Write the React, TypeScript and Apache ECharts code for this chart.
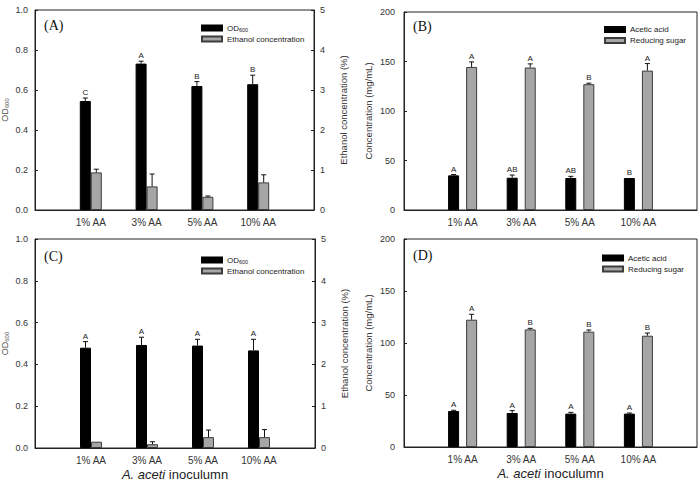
import React, { useEffect, useRef } from "react";
import * as echarts from "echarts";

const categories = ["1% AA", "3% AA", "5% AA", "10% AA"];

// Panel A
const odA = [0.545, 0.732, 0.62, 0.629];
const odAErr = [0.015, 0.012, 0.022, 0.045];
const odALetters = ["C", "A", "B", "B"];
const ethA = [0.94, 0.59, 0.33, 0.69];
const ethAErr = [0.08, 0.31, 0.02, 0.19];

// Panel B
const aceticB = [35.0, 32.6, 32.3, 32.3];
const aceticBErr = [0.8, 2.7, 1.7, 0.5];
const aceticBLetters = ["A", "AB", "AB", "B"];
const sugarB = [144.5, 143.9, 127.1, 140.8];
const sugarBErr = [5.1, 3.7, 1.0, 7.1];
const sugarBLetters = ["A", "A", "B", "A"];

// Panel C
const odC = [0.48, 0.493, 0.49, 0.467];
const odCErr = [0.029, 0.037, 0.03, 0.053];
const odCLetters = ["A", "A", "A", "A"];
const ethC = [0.15, 0.09, 0.26, 0.26];
const ethCErr = [0.0, 0.06, 0.17, 0.18];

// Panel D
const aceticD = [34.6, 32.7, 32.1, 32.1];
const aceticDErr = [0.7, 2.3, 1.2, 0.6];
const aceticDLetters = ["A", "A", "A", "A"];
const sugarD = [122.4, 113.1, 110.9, 107.0];
const sugarDErr = [5.2, 1.0, 1.6, 2.6];
const sugarDLetters = ["A", "B", "B", "B"];

const odTicks = [0, 0.2, 0.4, 0.6, 0.8, 1.0];

const FONT = "'Liberation Sans', Arial, sans-serif";
const SERIF = "'Liberation Serif', 'Times New Roman', serif";
const AXIS_COLOR = "#222";
const TEXT_COLOR = "#333";
const BLACK = "#000";
const GREY = "#a6a6a6";
const GREY_BORDER = "#3c3c3c";

const padCats = ["", ...categories, ""];
const pad = (arr: number[]) => [null, ...arr, null];

function errSeries(
  vals: number[],
  errs: number[],
  letters: string[] | null,
  offset: number,
  xi: number,
  yi: number
) {
  return {
    type: "custom",
    xAxisIndex: xi,
    yAxisIndex: yi,
    silent: true,
    clip: false,
    z: 5,
    data: vals.map((v, i) => [i + 1, v, v + errs[i]]),
    renderItem: (params: any, api: any) => {
      const x = api.value(0);
      const base = api.coord([x, api.value(1)]);
      const top = api.coord([x, api.value(2)]);
      const px = base[0] + offset;
      const children: any[] = [];
      if (top[1] < base[1] - 0.5) {
        children.push({
          type: "line",
          shape: { x1: px, y1: base[1], x2: px, y2: top[1] },
          style: { stroke: "#111", lineWidth: 1 },
        });
        children.push({
          type: "line",
          shape: { x1: px - 2.5, y1: top[1], x2: px + 2.5, y2: top[1] },
          style: { stroke: "#111", lineWidth: 1 },
        });
      }
      const letter = letters ? letters[params.dataIndex] : null;
      if (letter) {
        children.push({
          type: "text",
          x: px,
          y: top[1] - 1.5,
          style: {
            text: letter,
            fill: "#222",
            fontSize: 8,
            fontFamily: FONT,
            align: "center",
            verticalAlign: "bottom",
          },
        });
      }
      return { type: "group", children };
    },
  };
}

const axisCommon = {
  axisLine: { show: true, lineStyle: { color: AXIS_COLOR, width: 1 } },
  axisTick: { show: true, inside: true, length: 3, lineStyle: { color: AXIS_COLOR } },
  splitLine: { show: false },
};

function xAxis(gridIndex: number, withName: boolean) {
  return {
    type: "category",
    gridIndex,
    boundaryGap: false,
    data: padCats,
    axisLine: { show: true, lineStyle: { color: AXIS_COLOR, width: 1 } },
    axisTick: { show: false },
    axisLabel: { interval: 0, fontSize: 10, color: TEXT_COLOR, fontFamily: FONT, margin: 7 },
    splitLine: { show: false },
    name: withName ? "{i|A. aceti} inoculumn" : "",
    nameLocation: "middle",
    nameGap: 19,
    nameTextStyle: {
      fontSize: 13,
      lineHeight: 14,
      color: "#222",
      fontFamily: FONT,
      rich: { i: { fontStyle: "italic", fontSize: 13, lineHeight: 14, fontFamily: FONT, color: "#222" } },
    },
  };
}

function odAxis(gridIndex: number) {
  return {
    type: "value",
    gridIndex,
    position: "left",
    min: odTicks[0],
    max: odTicks[odTicks.length - 1],
    interval: 0.2,
    ...axisCommon,
    axisLabel: {
      fontSize: 9,
      color: TEXT_COLOR,
      fontFamily: FONT,
      margin: 7,
      formatter: (v: number) => v.toFixed(1),
    },
    name: "{a|OD}{s|600}",
    nameLocation: "middle",
    nameGap: 25,
    nameRotate: 90,
    nameTextStyle: {
      color: "#555",
      fontFamily: FONT,
      rich: {
        a: { fontSize: 9, color: "#555", fontFamily: FONT, verticalAlign: "middle", lineHeight: 11 },
        s: { fontSize: 6, color: "#555", fontFamily: FONT, verticalAlign: "bottom", lineHeight: 11 },
      },
    },
  };
}

function ethAxis(gridIndex: number) {
  return {
    type: "value",
    gridIndex,
    position: "right",
    min: 0,
    max: 5,
    interval: 1,
    ...axisCommon,
    axisLabel: { fontSize: 9, color: TEXT_COLOR, fontFamily: FONT, margin: 6 },
    name: "Ethanol concentration (%)",
    nameLocation: "middle",
    nameGap: 24,
    nameRotate: 90,
    nameTextStyle: { fontSize: 9.5, color: "#333", fontFamily: FONT },
  };
}

function concAxis(gridIndex: number) {
  return {
    type: "value",
    gridIndex,
    position: "left",
    min: 0,
    max: 200,
    interval: 50,
    ...axisCommon,
    axisLabel: { fontSize: 9, color: TEXT_COLOR, fontFamily: FONT, margin: 9 },
    name: "Concentration (mg/mL)",
    nameLocation: "middle",
    nameGap: 31,
    nameRotate: 90,
    nameTextStyle: { fontSize: 9.5, color: "#333", fontFamily: FONT },
  };
}

function legend(names: string[], left: number, top: number) {
  return {
    data: names,
    left,
    top,
    orient: "vertical",
    icon: "rect",
    itemWidth: 20,
    itemHeight: 5,
    itemGap: 1,
    padding: 0,
    selectedMode: false,
    formatter: (n: string) => (n === "OD600" ? "{a|OD}{s|600}" : n),
    textStyle: {
      fontSize: 8,
      lineHeight: 10,
      color: "#222",
      fontFamily: FONT,
      rich: {
        a: { fontSize: 8, lineHeight: 10, color: "#222", fontFamily: FONT },
        s: { fontSize: 5.5, lineHeight: 10, color: "#222", fontFamily: FONT, verticalAlign: "bottom" },
      },
    },
  };
}

const blackStyle = { color: BLACK, borderColor: BLACK, borderWidth: 1 };
const greyStyle = { color: GREY, borderColor: GREY_BORDER, borderWidth: 1 };

function panelLabel(text: string, x: number, y: number) {
  return {
    type: "text",
    x,
    y,
    style: {
      text,
      fill: "#111",
      fontSize: 14,
      fontFamily: SERIF,
      align: "left",
      verticalAlign: "middle",
    },
  };
}

export default function App() {
  const ref = useRef<HTMLDivElement>(null);

  useEffect(() => {
    document.body.style.margin = "0";
    if (!ref.current) return;
    const chart = echarts.init(ref.current, undefined, { renderer: "svg" });
    const gridBase = {
      show: true,
      borderColor: AXIS_COLOR,
      borderWidth: 1,
      backgroundColor: "transparent",
      containLabel: false,
      outerBoundsMode: "none",
    };
    chart.setOption({
      animation: false,
      backgroundColor: "#fff",
      grid: [
        { ...gridBase, left: 35, top: 10, width: 279, height: 200 },
        { ...gridBase, left: 404, top: 12, width: 293, height: 198 },
        { ...gridBase, left: 35, top: 239, width: 280, height: 209 },
        { ...gridBase, left: 404, top: 239, width: 293, height: 208 },
      ],
      xAxis: [xAxis(0, false), xAxis(1, false), xAxis(2, true), xAxis(3, true)],
      yAxis: [odAxis(0), ethAxis(0), concAxis(1), odAxis(2), ethAxis(2), concAxis(3)],
      legend: [
        legend(["OD600", "Ethanol concentration"], 201, 23),
        legend(["Acetic acid", "Reducing sugar"], 604, 24.5),
        legend(["OD600", "Ethanol concentration"], 201, 255),
        legend(["Acetic acid", "Reducing sugar"], 602, 253),
      ],
      graphic: [
        panelLabel("(A)", 44, 25.5),
        panelLabel("(B)", 413, 26),
        panelLabel("(C)", 44, 256.5),
        panelLabel("(D)", 413, 255.5),
      ],
      series: [
        // A
        { type: "bar", name: "OD600", xAxisIndex: 0, yAxisIndex: 0, data: pad(odA), barWidth: 11, barGap: "0%", itemStyle: blackStyle },
        { type: "bar", name: "Ethanol concentration", xAxisIndex: 0, yAxisIndex: 1, data: pad(ethA), barWidth: 11, barGap: "0%", itemStyle: greyStyle },
        errSeries(odA, odAErr, odALetters, -5.5, 0, 0),
        errSeries(ethA, ethAErr, null, 5.5, 0, 1),
        // B
        { type: "bar", name: "Acetic acid", xAxisIndex: 1, yAxisIndex: 2, data: pad(aceticB), barWidth: 11, barGap: "64%", itemStyle: blackStyle },
        { type: "bar", name: "Reducing sugar", xAxisIndex: 1, yAxisIndex: 2, data: pad(sugarB), barWidth: 11, barGap: "64%", itemStyle: greyStyle },
        errSeries(aceticB, aceticBErr, aceticBLetters, -9, 1, 2),
        errSeries(sugarB, sugarBErr, sugarBLetters, 9, 1, 2),
        // C
        { type: "bar", name: "OD600", xAxisIndex: 2, yAxisIndex: 3, data: pad(odC), barWidth: 11, barGap: "0%", itemStyle: blackStyle },
        { type: "bar", name: "Ethanol concentration", xAxisIndex: 2, yAxisIndex: 4, data: pad(ethC), barWidth: 11, barGap: "0%", itemStyle: greyStyle },
        errSeries(odC, odCErr, odCLetters, -5.5, 2, 3),
        errSeries(ethC, ethCErr, null, 5.5, 2, 4),
        // D
        { type: "bar", name: "Acetic acid", xAxisIndex: 3, yAxisIndex: 5, data: pad(aceticD), barWidth: 11, barGap: "64%", itemStyle: blackStyle },
        { type: "bar", name: "Reducing sugar", xAxisIndex: 3, yAxisIndex: 5, data: pad(sugarD), barWidth: 11, barGap: "64%", itemStyle: greyStyle },
        errSeries(aceticD, aceticDErr, aceticDLetters, -9, 3, 5),
        errSeries(sugarD, sugarDErr, sugarDLetters, 9, 3, 5),
      ],
    });
    return () => chart.dispose();
  }, []);

  return <div ref={ref} style={{ width: 700, height: 481 }} />;
}
